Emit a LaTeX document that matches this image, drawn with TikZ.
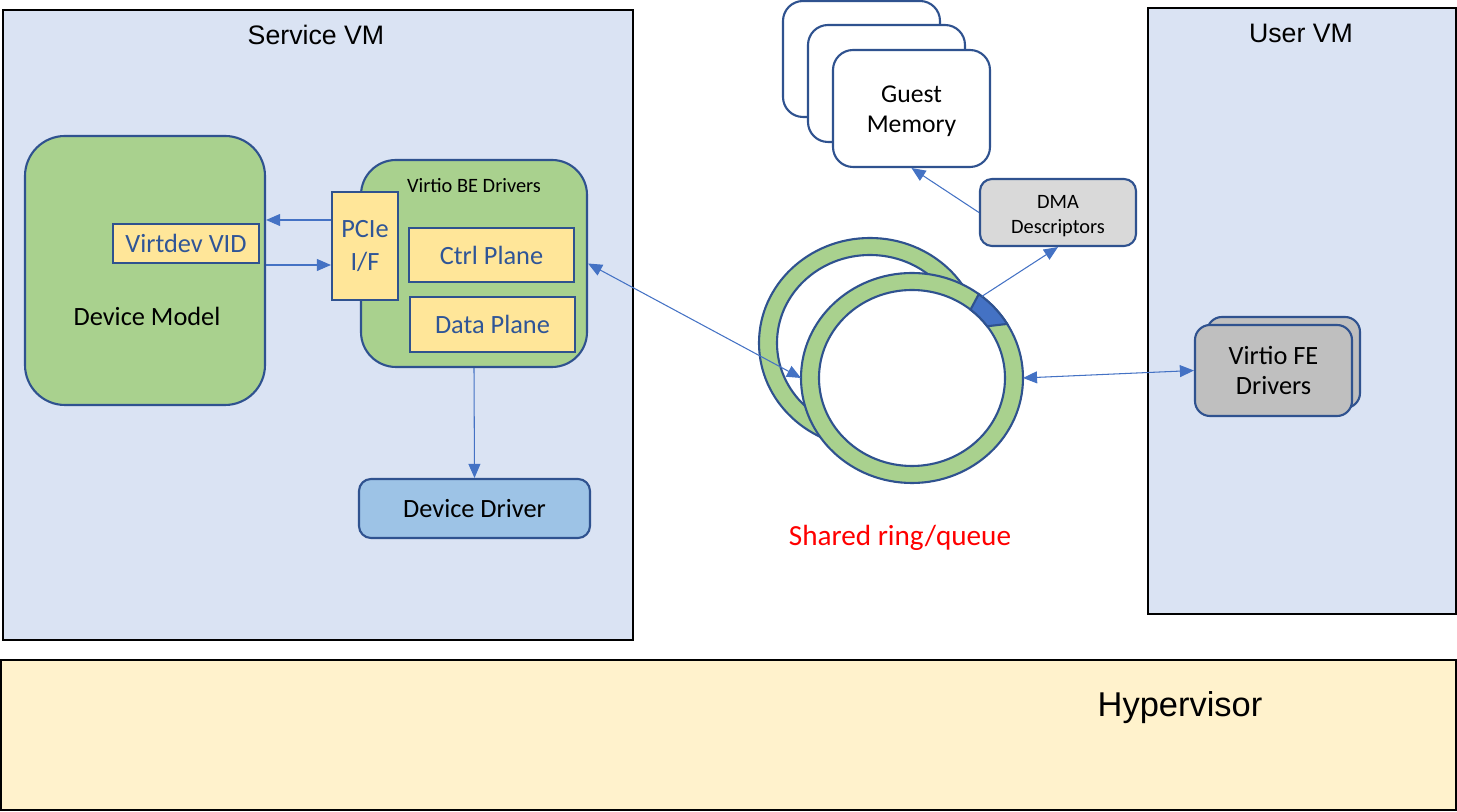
\documentclass[tikz,border=0pt]{standalone}
\usepackage{fontspec}
\setmainfont{Carlito}
\newfontfamily\arialfont{Liberation Sans}
\usepackage{tikz}
\usetikzlibrary{arrows.meta}
\usetikzlibrary{calc}
\definecolor{vmblue}{HTML}{DAE3F3}
\definecolor{hvyellow}{HTML}{FFF2CC}
\definecolor{boxgreen}{HTML}{A9D18E}
\definecolor{boxyellow}{HTML}{FFE699}
\definecolor{ddblue}{HTML}{9DC3E6}
\definecolor{dmagray}{HTML}{D9D9D9}
\definecolor{fegray}{HTML}{BFBFBF}
\definecolor{edgeblue}{HTML}{2F528F}
\definecolor{linkblue}{HTML}{4472C4}
\definecolor{textblue}{HTML}{2F5597}

\begin{document}
\begin{tikzpicture}[
  vmbox/.style={draw=black, line width=0.4pt, fill=vmblue, inner sep=0pt},
  title/.style={font=\arialfont\fontsize{7.6}{9}\selectfont},
  block/.style={draw=edgeblue, line width=0.6pt, align=center, inner sep=0pt,
    font=\fontsize{7.5}{9}\selectfont},
  small/.style={font=\fontsize{5.8}{7.1}\selectfont},
  link/.style={draw=linkblue, line width=0.3pt, -{Triangle[length=4pt,width=3.4pt]}},
  both/.style={link, {Triangle[length=4pt,width=3.4pt]}-{Triangle[length=4pt,width=3.4pt]}},
  ringline/.style={draw=edgeblue, line width=0.6pt},
]
  \path[use as bounding box] (0, 0) rectangle (14.57, -8.12);

  \node[vmbox, minimum width=6.30cm, minimum height=6.30cm] (svm) at (3.18, -3.25) {};
  \node[title] (svmtitle) at (3.16, -0.35) {Service VM};
  \node[vmbox, minimum width=3.08cm, minimum height=6.06cm] (uvm) at (13.02, -3.11) {};
  \node[title] (uvmtitle) at (13.01, -0.33) {User VM};
  \node[vmbox, fill=hvyellow, minimum width=14.55cm, minimum height=1.50cm] (hv) at (7.285, -7.35) {};
  \node[title, font=\arialfont\fontsize{9.8}{12}\selectfont] (hvtitle) at (11.80, -7.08) {Hypervisor};

  \node[block, fill=boxgreen, rounded corners=0.4cm, minimum width=2.40cm, minimum height=2.69cm,
    label={[font=\fontsize{7.5}{9}\selectfont, xshift=0.02cm, yshift=-0.455cm]center:Device Model}] (dm) at (1.45, -2.705) {};
  \node[block, fill=boxyellow, text=textblue, minimum width=1.46cm, minimum height=0.39cm] (vid) at (1.86, -2.435) {Virtdev VID};
  \node[block, fill=boxgreen, rounded corners=0.35cm, minimum width=2.26cm, minimum height=2.07cm,
    label={[small, anchor=center, yshift=-0.27cm]north:Virtio BE Drivers}] (be) at (4.74, -2.635) {};
  \node[block, fill=boxyellow, text=textblue, minimum width=0.66cm, minimum height=1.08cm,
    font=\fontsize{7.5}{9.4}\selectfont] (pcie) at (3.65, -2.46) {PCIe\\I/F};
  \node[block, fill=boxyellow, text=textblue, minimum width=1.65cm, minimum height=0.54cm] (ctrl) at (4.915, -2.55) {Ctrl Plane};
  \node[block, fill=boxyellow, text=textblue, minimum width=1.65cm, minimum height=0.55cm] (data) at (4.925, -3.245) {Data Plane};
  \node[block, fill=ddblue, rounded corners=0.12cm, minimum width=2.31cm, minimum height=0.59cm] (dd) at (4.745, -5.085) {Device Driver};

  \node[block, fill=white, rounded corners=0.2cm, minimum width=1.57cm, minimum height=1.16cm] (gm3) at (8.615, -0.59) {};
  \node[block, fill=white, rounded corners=0.2cm, minimum width=1.57cm, minimum height=1.17cm] (gm2) at (8.865, -0.835) {};
  \node[block, fill=white, rounded corners=0.2cm, minimum width=1.57cm, minimum height=1.17cm,
    label={[align=center, font=\fontsize{7.3}{8.5}\selectfont, yshift=-0.03cm]center:Guest\\Memory}] (gm) at (9.115, -1.085) {};
  \node[block, fill=dmagray, rounded corners=0.12cm, minimum width=1.56cm, minimum height=0.67cm,
    label={[align=center, small, yshift=-0.04cm]center:DMA\\Descriptors}] (dma) at (10.58, -2.125) {};

  \node[block, fill=fegray, rounded corners=0.15cm, minimum width=1.53cm, minimum height=0.91cm] (fe2) at (12.835, -3.625) {};
  \node[block, fill=fegray, rounded corners=0.15cm, minimum width=1.57cm, minimum height=0.91cm,
    font=\fontsize{7.5}{8.5}\selectfont] (fe) at (12.735, -3.705) {Virtio FE\\Drivers};

  % rings
  \coordinate (ringback) at (8.70, -3.43);
  \coordinate (ring) at (9.12, -3.78);
  \foreach \c in {ringback, ring} {
    \filldraw[ringline, fill=boxgreen] (\c) ellipse [x radius=1.11, y radius=1.05];
    \filldraw[ringline, fill=white] (\c) ellipse [x radius=0.93, y radius=0.88];
  }
  \filldraw[ringline, fill=linkblue] ($(ring)+(53:1.11 and 1.05)$)
    arc[start angle=53, end angle=31, x radius=1.11, y radius=1.05]
    -- ($(ring)+(36:0.93 and 0.88)$)
    arc[start angle=36, end angle=51, x radius=0.93, y radius=0.88] -- cycle;
  \coordinate (mark) at ($(ring)+(51:1.11 and 1.05)$);
  \coordinate (ringW) at ($(ring)+(-1.11, 0)$);
  \coordinate (ringE) at ($(ring)+(1.11, 0)$);
  \node[text=red, font=\fontsize{8.3}{10}\selectfont] (shared) at (9.00, -5.38) {Shared ring/queue};

  \draw[link] (pcie.west |- 0, -2.20) -- (dm.east |- 0, -2.20);
  \draw[link] (dm.east |- 0, -2.65) -- (pcie.west |- 0, -2.65);
  \draw[link] (be.south) -- (dd.north);
  \draw[both] (be.east) -- (ringW);
  \draw[both] (ringE) -- (fe.west);
  \draw[link] (mark) -- (dma.south);
  \draw[link] (dma.west) -- (gm.south);
\end{tikzpicture}
\end{document}
